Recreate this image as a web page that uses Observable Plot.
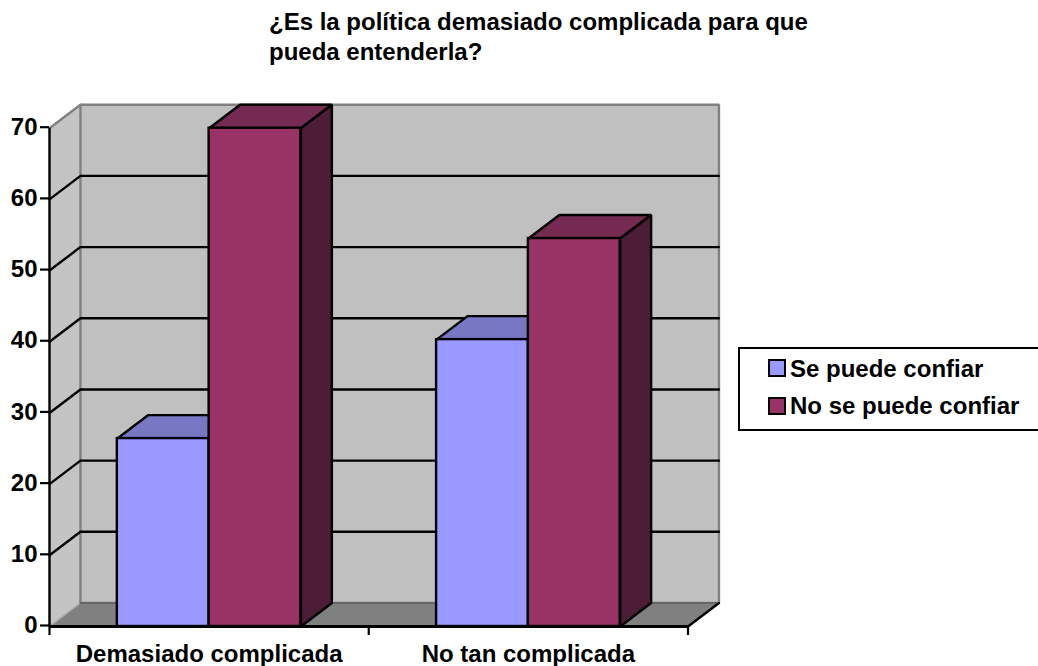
<!DOCTYPE html>
<html lang="es"><head><meta charset="utf-8">
<script src="https://cdn.jsdelivr.net/npm/d3@7"></script>
<script src="https://cdn.jsdelivr.net/npm/@observablehq/plot@0.6"></script>
<style>
html,body{margin:0;padding:0;background:#fff;overflow:hidden;width:1038px;height:666px}
body{position:relative;font-family:"Liberation Sans",Arial,sans-serif;color:#000}
#title{position:absolute;left:269px;top:7px;font-weight:bold;font-size:24px;line-height:30px;white-space:nowrap}
#chart{position:absolute;left:0;top:70px}
#legend{position:absolute;left:738px;top:347px;width:302px;height:80px;border:2px solid #000;font-weight:bold;font-size:24px;box-sizing:content-box}
.row{position:absolute;left:28px;display:flex;align-items:center;white-space:nowrap;line-height:27px}
.sw{width:14px;height:14px;border:2px solid #000;margin-right:4px}
</style></head><body>
<div id="title">¿Es la política demasiado complicada para que<br>pueda entenderla?</div>
<div id="chart"></div>
<div id="legend"></div>
<script>
const categories = ["Demasiado complicada", "No tan complicada"];
const seriesNames = ["Se puede confiar", "No se puede confiar"];
const confiar = [26.4, 40.3];
const noConfiar = [70, 54.5];
const yTicks = [0, 10, 20, 30, 40, 50, 60, 70];
const xTicks = [0, 1, 2];
const frontColors = ["#9999FF", "#993366"];
const topColors = ["#7777C4", "#752A52"];
const sideColors = ["#4F4F85", "#4D1C36"];
const wallColor = "#C0C0C0", floorColor = "#808080", edgeColor = "#808080";

// Depth of the pseudo-3D box and layout of the bars, in data units
const depthX = 0.097, depthY = 3.3;
const gap = 0.2125, barW = 0.2875;

const seriesValues = [confiar, noConfiar];
const bars = [];
categories.forEach((c, i) => seriesValues.forEach((vals, s) => {
  const x1 = i + gap + s * barW;
  bars.push({id: `${i}-${s}`, s, x1, x2: x1 + barW, v: vals[i]});
}));
const poly = (id, pts) => pts.map(([x, y]) => ({id, x, y}));
const closedShape = (pts, fill, stroke, strokeWidth = 2.4) =>
  Plot.line(pts, {x: "x", y: "y", curve: "linear-closed", fill, stroke, strokeWidth, strokeLinejoin: "miter"});
const openLine = (pts, stroke, strokeWidth = 2.4) =>
  Plot.line(pts, {x: "x", y: "y", stroke, strokeWidth});

const yMax = yTicks[yTicks.length - 1], xMax = xTicks[xTicks.length - 1];
const gridVals = yTicks.slice(1, -1);

const marks = [
  // side wall, back wall, floor
  closedShape(poly("side", [[0, 0], [depthX, depthY], [depthX, yMax + depthY], [0, yMax]]), "#C4C4C4", "none"),
  closedShape(poly("back", [[depthX, depthY], [xMax + depthX, depthY], [xMax + depthX, yMax + depthY], [depthX, yMax + depthY]]), wallColor, edgeColor),
  closedShape(poly("floor", [[0, 0], [xMax, 0], [xMax + depthX, depthY], [depthX, depthY]]), floorColor, "none"),
  openLine(poly("e1", [[0, yMax], [depthX, yMax + depthY]]), edgeColor),
  openLine(poly("e2", [[0, 0], [depthX, depthY]]), "#A8A8A8", 1.5),
  openLine(poly("e3", [[depthX, depthY], [xMax + depthX, depthY]]), "#666666", 2),
  // gridlines
  ...gridVals.map(v => openLine(poly("g" + v, [[0, v], [depthX, v + depthY], [xMax + depthX, v + depthY]]), "#000")),
  openLine(poly("e4", [[xMax, 0], [xMax + depthX, depthY]]), "#000"),
  // bars
  ...bars.flatMap(b => [
    closedShape(poly("t" + b.id, [[b.x1, b.v], [b.x2, b.v], [b.x2 + depthX, b.v + depthY], [b.x1 + depthX, b.v + depthY]]), topColors[b.s], "#000"),
    closedShape(poly("r" + b.id, [[b.x2, 0], [b.x2 + depthX, depthY], [b.x2 + depthX, b.v + depthY], [b.x2, b.v]]), sideColors[b.s], "#000"),
    Plot.rect([b], {x1: "x1", x2: "x2", y1: () => 0, y2: "v", fill: frontColors[b.s], stroke: "#000", strokeWidth: 2.4})
  ]),
  // axes
  Plot.ruleX([0], {y1: 0, y2: yMax, stroke: "#000", strokeWidth: 2.4}),
  Plot.ruleY([0], {x1: 0, x2: xMax, stroke: "#000", strokeWidth: 2.8}),
  Plot.axisY({ticks: yTicks, tickSize: 9, tickPadding: 3, strokeWidth: 2.2, stroke: "#000", fill: "#000", label: null, fontSize: 24, fontWeight: "bold", anchor: "left", textStroke: "none", dy: -1}),
  Plot.axisX({ticks: xTicks, tickSize: 9, strokeWidth: 2.2, stroke: "#000", label: null, tickFormat: () => "", anchor: "bottom"}),
  Plot.text(categories, {x: (d, i) => i + 0.5, y: () => 0, text: d => d, dy: 27.5, fontSize: 24, fontWeight: "bold", fill: "#000"})
];

const plot = Plot.plot({
  width: 1038,
  height: 596,
  marginLeft: 49,
  marginRight: 350.5,
  marginTop: 57.7,
  marginBottom: 40,
  style: {fontFamily: '"Liberation Sans",Arial,sans-serif', background: "transparent", overflow: "visible"},
  x: {type: "linear", domain: [0, xMax]},
  y: {type: "linear", domain: [0, yMax]},
  marks
});
document.getElementById("chart").append(plot);

const legend = document.getElementById("legend");
seriesNames.forEach((name, i) => {
  const row = document.createElement("div");
  row.className = "row";
  row.style.top = (i === 0 ? 5.5 : 43) + "px";
  const sw = document.createElement("span");
  sw.className = "sw";
  sw.style.background = frontColors[i];
  const label = document.createElement("span");
  label.textContent = name;
  row.append(sw, label);
  legend.append(row);
});
</script>
</body></html>
